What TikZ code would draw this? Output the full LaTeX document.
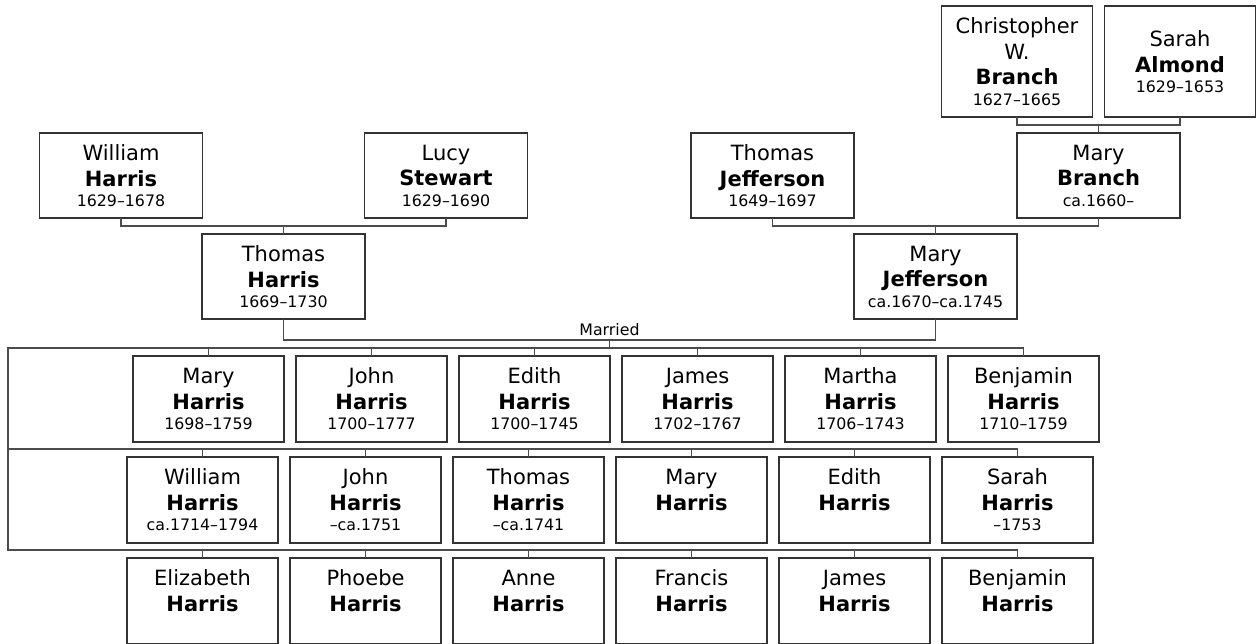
\documentclass[tikz,border=0pt]{standalone}
\usepackage{fontspec}
\setmainfont{DejaVu Sans}
\usetikzlibrary{positioning,calc}
\newcommand{\namefont}{\fontsize{21}{25.7}\selectfont}
\newcommand{\yearfont}{\fontsize{15.8}{19}\selectfont}
\newcommand{\who}[3]{#1\\\textbf{#2}\\[-5.4pt]{\yearfont\vphantom{0}#3}}
\begin{document}
\begin{tikzpicture}[
  x=1pt, y=-1pt,
  font=\namefont,
  person/.style={draw=black!80, line width=1.3pt, fill=white, align=center, inner sep=2pt, outer sep=0pt},
  parent/.style={person, minimum width=163pt, minimum height=85pt},
  founder/.style={person, minimum width=151pt, minimum height=111pt},
  kid/.style={person, minimum width=151pt, minimum height=86pt},
  link/.style={draw=black!70, line width=1.3pt},
  wedding/.style={font=\yearfont, inner sep=1pt},
]
\useasboundingbox (0,0) rectangle (1258,643);

% grandparents and parents
\node[parent] (wh) at (121,175.5) {\who{William}{Harris}{1629--1678}};
\node[parent, right=162pt of wh] (ls) {\who{Lucy}{Stewart}{1629--1690}};
\node[parent, below=16pt of $(wh.south)!0.5!(ls.south)$] (th) {\who{Thomas}{Harris}{1669--1730}};
\draw[link] (wh.south) -- ++(0,8) -| (ls.south);
\draw[link] (th.north) -- ++(0,-8);

\node[parent] (tj) at (772.5,175.5) {\who{Thomas}{Jefferson}{1649--1697}};
\node[parent, right=163pt of tj] (mb) {\who{Mary}{Branch}{ca.1660--}};
\node[founder, above=16pt of mb.north west] (cb) {\who{Christopher\\W.}{Branch}{1627--1665}};
\node[founder, above=16pt of mb.north east] (sa) {\who{Sarah}{Almond}{1629--1653}};
\draw[link] (cb.south) -- ++(0,8) -| (sa.south);
\draw[link] (mb.north) -- ++(0,-8);
\node[parent, below=16pt of $(tj.south)!0.5!(mb.south)$] (mj) {\who{Mary}{Jefferson}{ca.1670--ca.1745}};
\draw[link] (tj.south) -- ++(0,8) -| (mb.south);
\draw[link] (mj.north) -- ++(0,-8);

% marriage
\draw[link] (th.south) -- ++(0,21) -| (mj.south);
\coordinate (wed) at ($(th.south)!0.5!(mj.south)+(0,21)$);
\node[wedding, above=3pt of wed] (wedlbl) {Married};

% children
\node[kid] (ch1) at (208.5,399) {\who{Mary}{Harris}{1698--1759}};
\node[kid, right=12pt of ch1] (ch2) {\who{John}{Harris}{1700--1777}};
\node[kid, right=12pt of ch2] (ch3) {\who{Edith}{Harris}{1700--1745}};
\node[kid, right=12pt of ch3] (ch4) {\who{James}{Harris}{1702--1767}};
\node[kid, right=12pt of ch4] (ch5) {\who{Martha}{Harris}{1706--1743}};
\node[kid, right=12pt of ch5] (ch6) {\who{Benjamin}{Harris}{1710--1759}};

\node[kid, below=15pt of ch1, xshift=-6pt] (ch7) {\who{William}{Harris}{ca.1714--1794}};
\node[kid, right=12pt of ch7] (ch8) {\who{John}{Harris}{--ca.1751}};
\node[kid, right=12pt of ch8] (ch9) {\who{Thomas}{Harris}{--ca.1741}};
\node[kid, right=12pt of ch9] (ch10) {\who{Mary}{Harris}{}};
\node[kid, right=12pt of ch10] (ch11) {\who{Edith}{Harris}{}};
\node[kid, right=12pt of ch11] (ch12) {\who{Sarah}{Harris}{--1753}};

\node[kid, below=15pt of ch7] (ch13) {\who{Elizabeth}{Harris}{}};
\node[kid, right=12pt of ch13] (ch14) {\who{Phoebe}{Harris}{}};
\node[kid, right=12pt of ch14] (ch15) {\who{Anne}{Harris}{}};
\node[kid, right=12pt of ch15] (ch16) {\who{Francis}{Harris}{}};
\node[kid, right=12pt of ch16] (ch17) {\who{James}{Harris}{}};
\node[kid, right=12pt of ch17] (ch18) {\who{Benjamin}{Harris}{}};

\coordinate (r1) at (8,348);
\coordinate (r2) at (8,449);
\coordinate (r3) at (8,550);
\draw[link] (wed) -- (wed |- r1);
\draw[link] (r1 -| ch6.north) -- (r1) -- (r3) -- (r3 -| ch18.north);
\draw[link] (r2) -- (r2 -| ch12.north);
\draw[link] (ch1.north) -- ++(0,-8) (ch2.north) -- ++(0,-8) (ch3.north) -- ++(0,-8)
  (ch4.north) -- ++(0,-8) (ch5.north) -- ++(0,-8) (ch6.north) -- ++(0,-8);
\draw[link] (ch7.north) -- ++(0,-8) (ch8.north) -- ++(0,-8) (ch9.north) -- ++(0,-8)
  (ch10.north) -- ++(0,-8) (ch11.north) -- ++(0,-8) (ch12.north) -- ++(0,-8);
\draw[link] (ch13.north) -- ++(0,-8) (ch14.north) -- ++(0,-8) (ch15.north) -- ++(0,-8)
  (ch16.north) -- ++(0,-8) (ch17.north) -- ++(0,-8) (ch18.north) -- ++(0,-8);
\end{tikzpicture}
\end{document}
